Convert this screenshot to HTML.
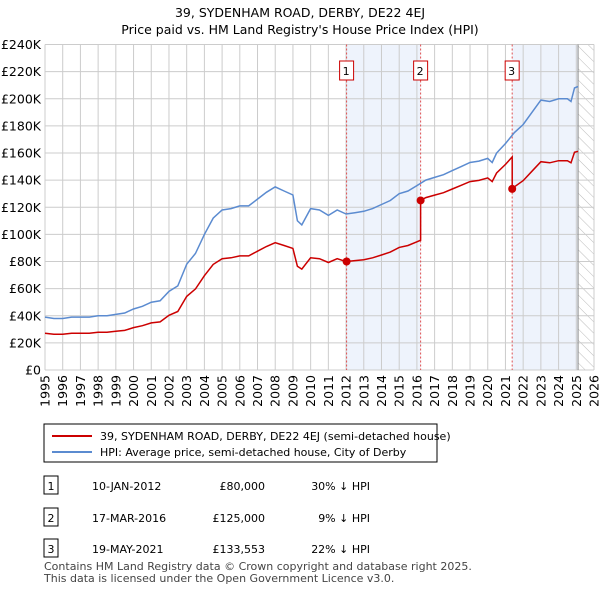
<!DOCTYPE html>
<html><head><meta charset="utf-8"><style>
body{margin:0;background:#fff;font-family:"Liberation Sans","DejaVu Sans",sans-serif;}
svg text{font-family:"DejaVu Sans","Liberation Sans",sans-serif;}
</style></head><body>
<svg id="c" width="600" height="590" xmlns="http://www.w3.org/2000/svg">
<text x="300" y="17" text-anchor="middle" font-size="12.5">39, SYDENHAM ROAD, DERBY, DE22 4EJ</text>
<text x="300" y="34" text-anchor="middle" font-size="12.5">Price paid vs. HM Land Registry's House Price Index (HPI)</text>
<g id="plot"></g>
<g>
<rect x="44" y="424" width="393" height="38" fill="#fff" stroke="#000" stroke-width="1"/>
<line x1="52" y1="436" x2="92" y2="436" stroke="#cc0000" stroke-width="2"/>
<text x="100" y="440" font-size="11">39, SYDENHAM ROAD, DERBY, DE22 4EJ (semi-detached house)</text>
<line x1="52" y1="452" x2="92" y2="452" stroke="#5b8bd0" stroke-width="2"/>
<text x="100" y="456" font-size="11">HPI: Average price, semi-detached house, City of Derby</text>
</g>
<g id="table"></g>
<text x="44" y="570" font-size="11" fill="#444">Contains HM Land Registry data © Crown copyright and database right 2025.</text>
<text x="44" y="582" font-size="11" fill="#444">This data is licensed under the Open Government Licence v3.0.</text>
</svg>
<script>
const hpiYears=[1995,1995.5,1996,1996.5,1997,1997.5,1998,1998.5,1999,1999.5,2000,2000.5,2001,2001.5,2002,2002.5,2003,2003.5,2004,2004.5,2005,2005.5,2006,2006.5,2007,2007.5,2008,2008.5,2009,2009.25,2009.5,2010,2010.5,2011,2011.5,2012,2012.5,2013,2013.5,2014,2014.5,2015,2015.5,2016,2016.5,2017,2017.5,2018,2018.5,2019,2019.5,2020,2020.25,2020.5,2021,2021.5,2022,2022.5,2023,2023.5,2024,2024.5,2024.7,2024.9,2025.1];
const hpiValues=[39,38,38,39,39,39,40,40,41,42,45,47,50,51,58,62,78,86,100,112,118,119,121,121,126,131,135,132,129,110,107,119,118,114,118,115,116,117,119,122,125,130,132,136,140,142,144,147,150,153,154,156,153,160,167,175,181,190,199,198,200,200,198,208,209];
const saleYears=[2012.03,2016.21,2021.38];
const salePrices=[80000,125000,133553];
const saleLabels=["1","2","3"];
const saleDates=["10-JAN-2012","17-MAR-2016","19-MAY-2021"];
const salePriceText=["£80,000","£125,000","£133,553"];
const saleDiff=["30% ↓ HPI","9% ↓ HPI","22% ↓ HPI"];
const yTicks=[0,20,40,60,80,100,120,140,160,180,200,220,240];
const xTicks=[1995,1996,1997,1998,1999,2000,2001,2002,2003,2004,2005,2006,2007,2008,2009,2010,2011,2012,2013,2014,2015,2016,2017,2018,2019,2020,2021,2022,2023,2024,2025,2026];

const L=45,R=594,T=44.5,B=370;
const xS=y=>L+(y-1995)*(R-L)/31;
const yS=v=>B-v*(B-T)/240;
const NS="http://www.w3.org/2000/svg";
const g=document.getElementById('plot');
function mk(t,a,p){const e=document.createElementNS(NS,t);for(const k in a)e.setAttribute(k,a[k]);(p||g).appendChild(e);return e;}
function hpiAt(y){for(let i=0;i<hpiYears.length-1;i++){if(y<=hpiYears[i+1]){const f=(y-hpiYears[i])/(hpiYears[i+1]-hpiYears[i]);return hpiValues[i]+f*(hpiValues[i+1]-hpiValues[i]);}}return hpiValues[hpiValues.length-1];}
// shading
let s=mk('rect',{x:xS(saleYears[0]),y:T,width:xS(saleYears[1])-xS(saleYears[0]),height:B-T,fill:'#eef3fc'});

s=mk('rect',{x:xS(saleYears[2]),y:T,width:xS(2025.1)-xS(saleYears[2]),height:B-T,fill:'#eef3fc'});

// hatch
const defs=mk('defs',{});
const pat=mk('pattern',{id:'h',width:8,height:8,patternUnits:'userSpaceOnUse',patternTransform:'rotate(-45)'},defs);
mk('line',{x1:0,y1:0,x2:0,y2:8,stroke:'#bbb','stroke-width':1},pat);
s=mk('rect',{x:xS(2025.1),y:T,width:R-xS(2025.1),height:B-T,fill:'url(#h)'});

// grid
yTicks.forEach(v=>{const l=mk('line',{x1:L,x2:R,y1:yS(v),y2:yS(v),stroke:'#ccc'});

const t=mk('text',{x:L-4,y:yS(v)+4.5,'text-anchor':'end','font-size':12.5});t.textContent=v===0?'£0':'£'+v+'K';
});
xTicks.forEach(y=>{const l=mk('line',{x1:xS(y),x2:xS(y),y1:T,y2:B,stroke:'#ccc'});

const t=mk('text',{x:0,y:0,'text-anchor':'end','font-size':12.5,transform:`translate(${xS(y)+4.5},${B+5}) rotate(-90)`});t.textContent=y;
});
mk('line',{x1:xS(2025.1),x2:xS(2025.1),y1:T,y2:B,stroke:'#888'});
// sale lines
saleYears.forEach((y,i)=>{const l=mk('line',{x1:xS(y),x2:xS(y),y1:T,y2:B,stroke:'#e05050','stroke-dasharray':'2,2'});

const r=mk('rect',{x:xS(y)-14,y:61,width:14,height:19,fill:'#fff',stroke:'#cc0000'});r.setAttribute('x',xS(y)-(i==0?6:6)-1);

const t=mk('text',{x:xS(y)-0.5+(-(i==0?6:6)-1)+7,y:75,'text-anchor':'middle','font-size':11});t.textContent=saleLabels[i];
});
// hpi line
let d='';hpiYears.forEach((y,i)=>{d+=(i?'L':'M')+xS(y).toFixed(1)+','+yS(hpiValues[i]).toFixed(1);});
let p=mk('path',{d:d,fill:'none',stroke:'#5b8bd0','stroke-width':1.5});

// price line
function ratioAt(y){let k=0;for(let i=0;i<saleYears.length;i++)if(y>=saleYears[i])k=i;return salePrices[k]/1000/hpiAt(saleYears[k]);}
const pts=[];hpiYears.forEach((y,i)=>{saleYears.forEach((sy,j)=>{if(sy>y-0.5&&sy<=y&&!pts.some(q=>q[0]===sy)){pts.push([sy-0.001,hpiAt(sy)*ratioAt(sy-0.002)]);pts.push([sy,salePrices[j]/1000]);}});pts.push([y,hpiValues[i]*ratioAt(y)]);});
pts.sort((a,b)=>a[0]-b[0]);
d='';pts.forEach((q,i)=>{d+=(i?'L':'M')+xS(q[0]).toFixed(1)+','+yS(q[1]).toFixed(1);});
p=mk('path',{d:d,fill:'none',stroke:'#cc0000','stroke-width':1.5});

saleYears.forEach((y,i)=>{const c=mk('circle',{cx:xS(y),cy:yS(salePrices[i]/1000),r:4,fill:'#cc0000'});
});
// table
const tb=document.getElementById('table');const rowY=[486,518,549];
saleYears.forEach((y,i)=>{const r=mk('rect',{x:44,y:rowY[i]-10,width:14,height:18,fill:'#fff',stroke:'#000'},tb);

const cols=[[51,saleLabels[i],'middle'],[92,saleDates[i],'start'],[265,salePriceText[i],'end'],[370,saleDiff[i],'end']];
cols.forEach(c=>{const t=mk('text',{x:c[0],y:rowY[i]+4,'text-anchor':c[2],'font-size':11},tb);t.textContent=c[1];
});});
</script>
</body></html>
